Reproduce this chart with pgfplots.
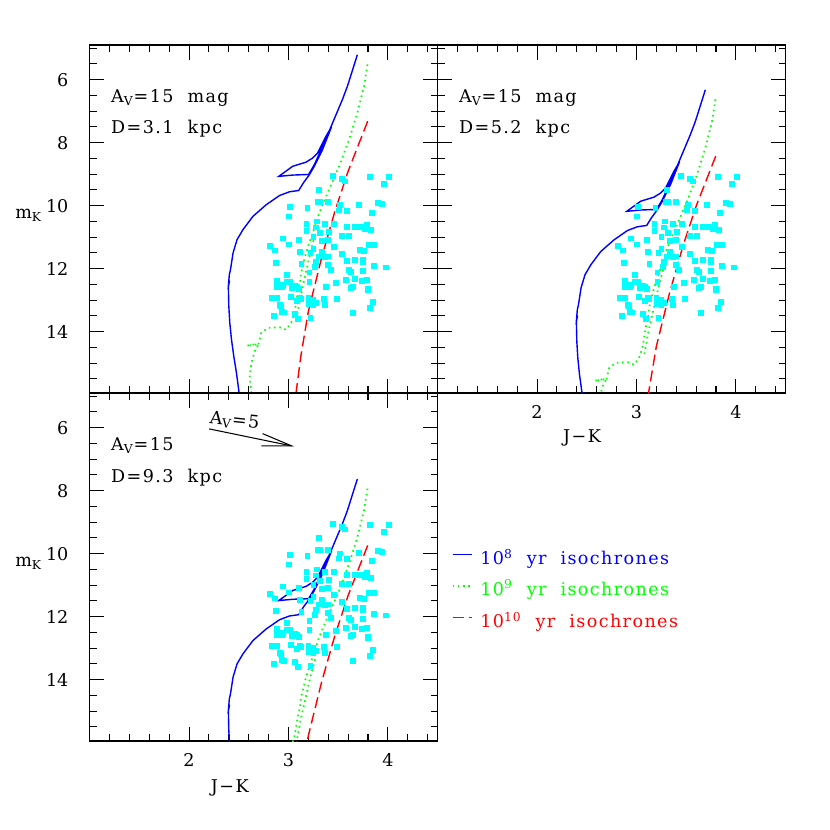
\documentclass[border=0pt]{standalone}
\usepackage{fontspec}
\setmainfont[LetterSpace=8]{DejaVu Serif}
\usepackage{pgfplots}
\usepackage{pgfplotstable}
\pgfplotsset{compat=1.18}

\definecolor{isoblue}{rgb}{0,0,1}
\definecolor{isogreen}{rgb}{0,1,0}
\definecolor{isored}{rgb}{1,0,0}
\definecolor{starcyan}{rgb}{0,1,1}

% observed stars (J-K, m_K)
\pgfplotstableread{
jk mk
3.45 9.05
3.54 9.15
3.57 9.23
3.82 9.08
4.01 9.09
3.96 9.31
3.31 9.51
3.30 9.89
3.32 9.88
3.40 9.89
3.52 9.99
3.71 9.98
3.90 9.92
3.94 9.93
3.01 10.05
3.19 10.08
3.00 10.34
3.51 10.15
3.59 10.16
3.84 10.22
3.29 10.50
3.18 10.57
3.37 10.59
3.46 10.57
3.59 10.68
3.67 10.66
3.73 10.68
3.77 10.73
3.79 10.61
3.83 10.76
3.18 10.79
3.28 10.69
3.32 10.87
3.41 10.84
3.54 10.96
3.61 10.97
2.81 11.28
2.94 11.04
3.10 11.08
3.25 10.99
3.00 11.23
2.86 11.42
3.34 11.12
3.40 11.08
3.46 11.30
3.25 11.37
3.11 11.46
3.22 11.51
3.34 11.47
3.37 11.63
3.40 11.61
3.31 11.61
3.28 11.78
3.54 11.53
3.72 11.39
3.76 11.44
3.81 11.25
3.86 11.26
2.87 11.81
3.13 11.85
3.27 11.94
3.40 11.88
3.43 12.05
3.21 12.12
3.59 11.75
3.67 11.72
3.75 11.71
3.75 11.79
3.61 12.03
3.63 12.11
3.75 12.06
3.86 11.92
3.98 11.96
2.88 12.40
2.98 12.21
3.01 12.43
2.94 12.53
2.88 12.59
3.06 12.54
3.03 12.60
3.08 12.58
3.10 12.65
2.93 12.58
2.98 12.43
3.38 12.59
3.21 12.43
3.48 12.44
3.58 12.36
3.67 12.32
3.74 12.39
3.79 12.37
3.63 12.60
3.65 12.59
3.80 12.65
3.80 12.69
2.83 12.93
2.88 12.93
3.02 12.91
3.11 12.93
3.13 12.96
3.20 12.94
3.25 12.98
3.36 12.96
3.49 12.95
2.91 13.15
2.92 13.17
3.08 13.03
3.20 13.13
3.25 13.16
3.28 13.09
3.37 13.16
3.85 13.06
3.82 13.24
2.85 13.49
2.93 13.38
2.95 13.39
3.06 13.44
3.09 13.60
3.22 13.57
3.65 13.41
}\stars

% isochrones at D=3.1 kpc, A_V=15
\pgfplotstableread{
jk mk
2.503 15.93
2.477 15.31
2.450 14.78
2.427 14.25
2.410 13.72
2.400 13.19
2.397 12.77
2.397 12.56
2.407 12.38
2.398 12.47
2.405 12.20
2.417 12.03
2.443 11.50
2.483 11.08
2.543 10.76
2.643 10.34
2.777 9.97
2.910 9.68
3.010 9.56
3.103 9.52
3.150 9.28
3.210 9.02
3.260 8.75
3.343 8.22
3.433 7.50
3.377 7.80
3.293 8.33
3.243 8.49
3.177 8.62
3.043 8.75
2.903 9.07
3.043 9.03
3.203 9.01
3.260 8.70
3.360 8.01
3.443 7.38
3.543 6.63
3.593 6.21
3.693 5.21
}\isoa

\pgfplotstableread{
jk mk
2.627 15.95
2.610 15.42
2.627 15.00
2.660 14.63
2.700 14.40
2.580 14.45
2.700 14.38
2.727 14.04
2.793 13.88
2.910 13.86
2.977 13.94
3.027 13.72
3.060 13.40
3.077 13.09
3.093 12.77
3.117 12.45
3.127 12.14
3.177 11.50
3.243 10.87
3.310 10.23
3.393 9.60
3.510 8.75
3.610 7.90
3.693 7.06
3.760 6.21
3.797 5.47
}\isob

\pgfplotstableread{
jk mk
3.080 13.60
3.120 12.90
3.170 12.20
3.220 11.50
3.270 10.90
}\isobb

\pgfplotstableread{
jk mk
3.797 7.32
3.700 8.10
3.600 8.91
3.467 10.18
3.333 11.66
3.200 13.36
3.123 14.81
3.077 15.93
}\isoc

\pgfplotsset{
  panel/.style={
    scale only axis, width=6.96cm, height=6.96cm,
    xmin=1, xmax=4.5, ymin=4.9, ymax=15.95, y dir=reverse,
    xtick={2,3,4}, ytick={6,8,10,12,14},
    minor xtick={1.2,1.4,1.6,1.8,2.2,2.4,2.6,2.8,3.2,3.4,3.6,3.8,4.2,4.4},
    minor ytick={5,5.5,6.5,7,7.5,8.5,9,9.5,10.5,11,11.5,12.5,13,13.5,14.5,15,15.5},
    tick align=inside, major tick length=0.29cm, minor tick length=0.14cm,
    tick style={black, line width=0.6pt},
    axis line style={line width=0.7pt},
    /pgf/number format/assume math mode=true,
    every tick label/.append style={font=\addfontfeature{LetterSpace=0}},
    yticklabel style={xshift=-0.3cm},
    xticklabel style={yshift=-0.12cm},
    ylabel style={rotate=-90, at={(axis description cs:-0.175,0.51)}, anchor=center},
  },
  stars/.style={only marks, mark=square*, mark size=1.4pt, color=starcyan},
  iso8/.style={isoblue, line width=0.8pt, no marks},
  iso9/.style={isogreen, line width=1pt, no marks, dash pattern=on 0.9pt off 2.1pt},
  iso10/.style={isored, line width=0.8pt, no marks, dash pattern=on 0.22cm off 0.1cm},
}

\begin{document}
\begin{tikzpicture}
\path[use as bounding box] (0,0) rectangle (16.6cm,-16.6cm);

% top left: D = 3.1 kpc
\begin{axis}[panel, at={(1.792cm,-0.9cm)}, anchor=north west, xticklabels={},
  ylabel={m\textsubscript{K}}]
\addplot[stars] table[x=jk, y=mk] {\stars};
\addplot[iso8] table[x=jk, y=mk] {\isoa};
\addplot[iso9] table[x=jk, y=mk] {\isob};
\addplot[iso9] table[x=jk, y=mk] {\isobb};
\addplot[iso10] table[x=jk, y=mk] {\isoc};
\node[anchor=base west] at (axis cs:1.155,6.72) {A\textsubscript{V}=15\ \ mag};
\node[anchor=base west] at (axis cs:1.155,7.71) {D=3.1\ \ kpc};
\end{axis}

% top right: D = 5.2 kpc
\begin{axis}[panel, at={(8.752cm,-0.9cm)}, anchor=north west, yticklabels={},
  xlabel={J−K}, xlabel style={at={(axis description cs:0.415,-0.13)}, anchor=center}]
\addplot[stars] table[x=jk, y=mk] {\stars};
\addplot[iso8] table[x=jk, y expr=\thisrow{mk}+1.11] {\isoa};
\addplot[iso9] table[x=jk, y expr=\thisrow{mk}+1.11] {\isob};
\addplot[iso9] table[x=jk, y expr=\thisrow{mk}+1.11] {\isobb};
\addplot[iso10] table[x=jk, y expr=\thisrow{mk}+1.11] {\isoc};
\node[anchor=base west] at (axis cs:1.155,6.72) {A\textsubscript{V}=15\ \ mag};
\node[anchor=base west] at (axis cs:1.155,7.71) {D=5.2\ \ kpc};
\end{axis}

% bottom left: D = 9.3 kpc
\begin{axis}[panel, at={(1.792cm,-7.86cm)}, anchor=north west,
  ylabel={m\textsubscript{K}},
  xlabel={J−K}, xlabel style={at={(axis description cs:0.403,-0.135)}, anchor=center}]
\addplot[stars] table[x=jk, y=mk] {\stars};
\addplot[iso8] table[x=jk, y expr=\thisrow{mk}+2.42] {\isoa};
\addplot[iso9] table[x=jk, y expr=\thisrow{mk}+2.42] {\isob};
\addplot[iso9] table[x=jk, y expr=\thisrow{mk}+2.42] {\isobb};
\addplot[iso10] table[x=jk, y expr=\thisrow{mk}+2.42] {\isoc};
\node[anchor=base west] at (axis cs:1.155,6.74) {A\textsubscript{V}=15};
\node[anchor=base west] at (axis cs:1.155,7.75) {D=9.3\ \ kpc};
\draw[line width=0.6pt] (axis cs:2.203,6.04) -- (axis cs:3.033,6.58);
\draw[line width=0.6pt] (axis cs:2.74,6.19) -- (axis cs:3.033,6.58) -- (axis cs:2.727,6.58);
\node[rotate=-6, anchor=base west, inner sep=0pt] at (axis cs:2.20,5.86) {A\textsubscript{V}=5};
\end{axis}

% legend
\draw[isoblue, line width=0.8pt] (9.05cm,-11.09cm) -- (9.43cm,-11.09cm);
\node[isoblue, anchor=base west, inner sep=0pt] at (9.6cm,-11.29cm) {10\textsuperscript{8}\ \ yr\ \ isochrones};
\draw[isogreen, line width=1pt, dash pattern=on 0.9pt off 2.1pt] (9.05cm,-11.72cm) -- (9.43cm,-11.72cm);
\node[isogreen, anchor=base west, inner sep=0pt] at (9.6cm,-11.9cm) {10\textsuperscript{9}\ \ yr\ \ isochrones};
\draw[isored, line width=0.8pt, dash pattern=on 0.22cm off 0.1cm] (9.05cm,-12.35cm) -- (9.43cm,-12.35cm);
\node[isored, anchor=base west, inner sep=0pt] at (9.6cm,-12.55cm) {10\textsuperscript{10}\ \ yr\ \ isochrones};
\end{tikzpicture}
\end{document}
